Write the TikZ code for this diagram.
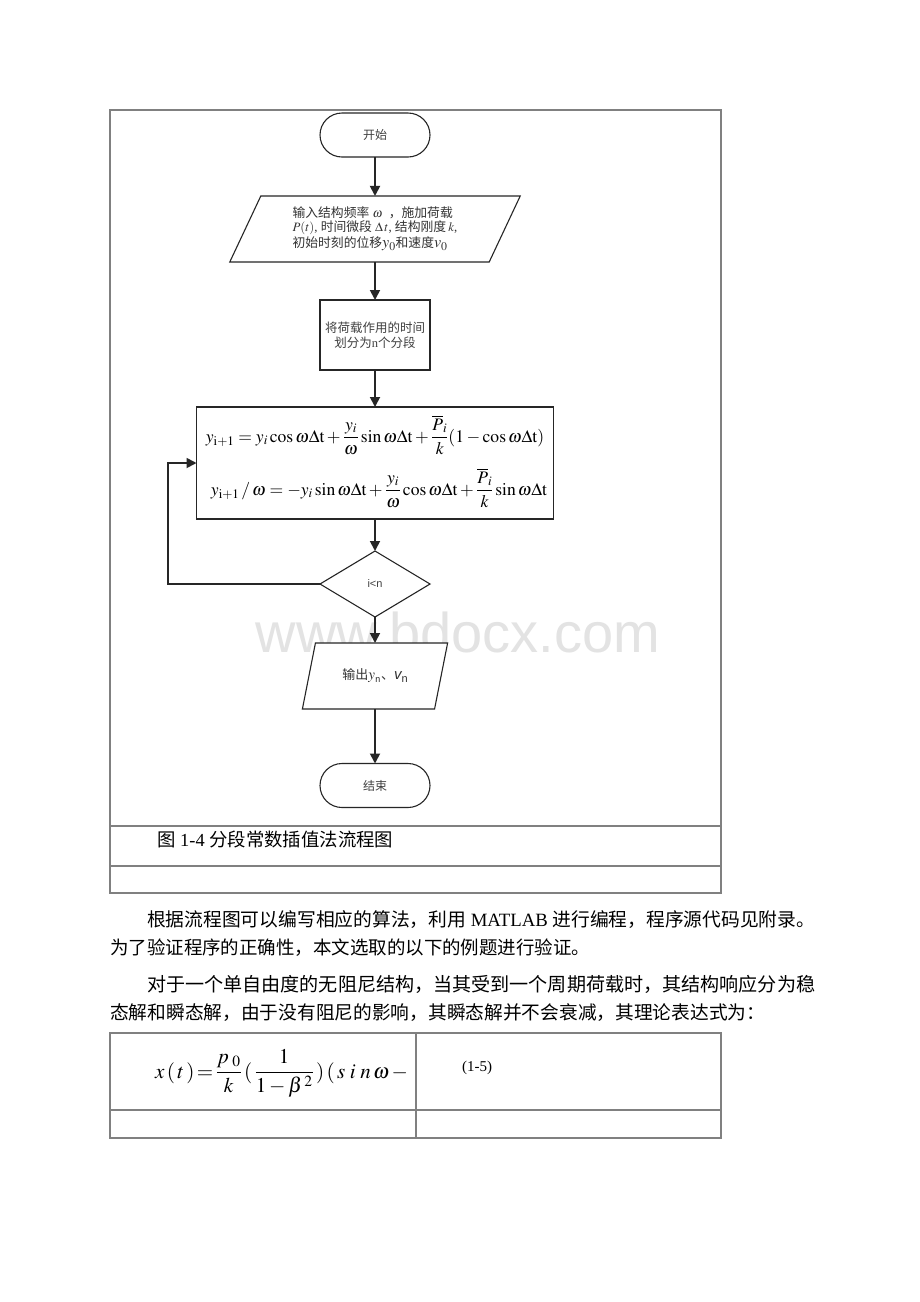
\documentclass[tikz,border=0pt]{standalone}
\usepackage{amsmath}
\usepackage{mathptmx}
\usepackage{fontspec}
\setmainfont{Liberation Serif}
\newfontfamily\cjk{Noto Sans CJK SC}
\newfontfamily\sansf{Liberation Sans}
\usetikzlibrary{shapes.geometric,shapes.misc,arrows.meta}
\newcommand{\fs}[1]{\fontsize{#1pt}{#1pt}\selectfont}
\tikzset{
  tbl/.style={draw=black!50, line width=1.3pt},
  shp/.style={draw=black!85, line width=1.1pt, fill=white, inner sep=0pt, outer sep=0pt},
  term/.style={shp, rounded rectangle, minimum width=110pt, minimum height=44pt, font=\cjk\fs{12}, text=black!75},
  para/.style={shp, trapezium, trapezium left angle=63, trapezium right angle=117, trapezium stretches=true, minimum height=66pt},
  stepbox/.style={shp, rectangle},
  dec/.style={shp, diamond, minimum width=110pt, minimum height=66pt, font=\sansf\fs{11}, text=black!75},
  arr/.style={draw=black!85, line width=1.8pt, -{Triangle[length=10pt,width=10pt]}},
  txt/.style={anchor=base west, inner sep=0pt, font=\fs{19}},
}
\begin{document}
\begin{tikzpicture}[x=1pt,y=-1pt]
\useasboundingbox[fill=white] (0,0) rectangle (920,1302);

% watermark
\node[text=black!11, font=\sansf\fs{56}] (wm) at (458,632) {www.bdocx.com};

% outer table
\draw[tbl] (110,110) rectangle (721,893);
\draw[tbl] (110,826) -- (721,826);
\draw[tbl] (110,866) -- (721,866);

% flowchart
\node[term] (start) at (375,135) {开始};

\node[para, minimum width=291pt, align=left, text=black!80, font=\fs{12.8}] (inp) at (375,229)
  {{\cjk 输入结构频率} $\omega$\ \ {\cjk ，施加荷载}\\[1pt]
   $P(t)$, {\cjk 时间微段} $\Delta\,t$, {\cjk 结构刚度}\,$k$,\\[1pt]
   {\cjk 初始时刻的位移}{\fs{16}$y_0$}{\cjk 和速度}{\fs{16}$v_0$}};

\node[stepbox, minimum width=110pt, minimum height=70pt, align=center, text=black!75, font=\cjk\fs{12.5}] (seg) at (375,335)
  {将荷载作用的时间\\[2pt]划分为{\rmfamily n}个分段};

\node[stepbox, minimum width=357pt, minimum height=112pt] (fb) at (375,463) {};
\node[inner sep=0pt, font=\fs{17.6}] (f1) at (375,435)
  {$y_{\mathrm{i+1}} = y_i\cos\omega\Delta\mathrm{t} + \dfrac{y_i}{\omega}\sin\omega\Delta\mathrm{t} + \dfrac{\overline{P}_i}{k}(1-\cos\omega\Delta\mathrm{t})$};
\node[inner sep=0pt, font=\fs{17.6}] (f2) at (379,488)
  {$y_{\mathrm{i+1}}\,/\,\omega = -y_i\sin\omega\Delta\mathrm{t} + \dfrac{y_i}{\omega}\cos\omega\Delta\mathrm{t} + \dfrac{\overline{P}_i}{k}\sin\omega\Delta\mathrm{t}$};

\node[dec] (cond) at (375,584) {i<n};

\node[para, minimum width=146pt, text=black!80, font=\fs{13}] (out) at (375,676)
  {{\cjk 输出}{\fs{15}$y_{\textsf{\fs{11}n}}$}{\cjk 、}{\sansf\itshape\fs{15}v}{\sansf\fs{11}\raisebox{-3pt}{n}}};

\node[term] (stop) at (375,785.5) {结束};

\draw[arr] (start) -- (inp);
\draw[arr] (inp) -- (seg);
\draw[arr] (seg) -- (fb);
\draw[arr] (fb) -- (cond);
\draw[arr] (cond) -- (out);
\draw[arr] (out) -- (stop);
\coordinate (lp) at (168,584);
\draw[arr] (cond.west) -- (lp) |- (fb.west);

% caption
\node[anchor=base west, inner sep=0pt, font=\fs{18}] (cap) at (157,846) {\resizebox{236pt}{!}{{\cjk 图} 1-4 {\cjk 分段常数插值法流程图}}};

% paragraphs
\node[txt] (p1) at (147,926.5) {\resizebox{668pt}{!}{{\cjk 根据流程图可以编写相应的算法，利用} MATLAB {\cjk 进行编程，程序源代码见附录。}}};
\node[txt] (p2) at (110,954.5) {\resizebox{480pt}{!}{\cjk 为了验证程序的正确性，本文选取的以下的例题进行验证。}};
\node[txt] (p3) at (147,991.5) {\resizebox{668pt}{!}{\cjk 对于一个单自由度的无阻尼结构，当其受到一个周期荷载时，其结构响应分为稳}};
\node[txt] (p4) at (110,1019.5) {\resizebox{655pt}{!}{\cjk 态解和瞬态解，由于没有阻尼的影响，其瞬态解并不会衰减，其理论表达式为：}};

% lower table
\draw[tbl] (110,1033) rectangle (721,1138);
\draw[tbl] (110,1110) -- (721,1110);
\draw[tbl] (416,1033) -- (416,1138);
\begin{scope}
\clip (110,1033) rectangle (415,1110);
\node[anchor=base west, inner sep=0pt, font=\fs{21}] (eq) at (155,1078)
  {$x\,(\,t\,)\,{=}\,\dfrac{p_{\;0}}{k}\,(\,\dfrac{1}{1-\beta^{\,2}}\,)\,(\,s\;i\;n\,\omega\,-$};
\end{scope}
\node[anchor=base west, inner sep=0pt, font=\fs{15}] (eqno) at (462,1071) {(1-5)};
\end{tikzpicture}
\end{document}
